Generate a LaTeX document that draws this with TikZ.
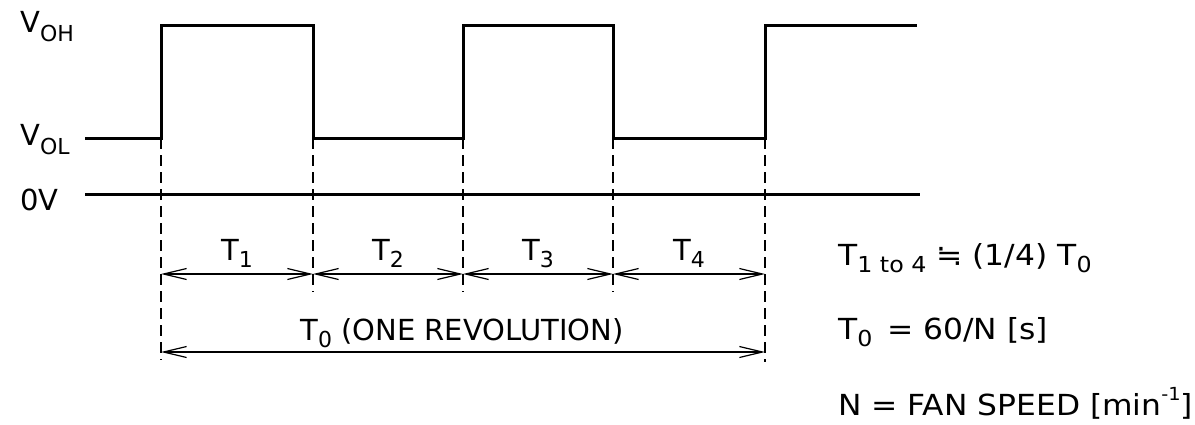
\documentclass[tikz,border=0pt]{standalone}
\usepackage{fontspec}
\setmainfont{DejaVu Sans}
\newfontfamily\rfont[FakeStretch=1.08]{DejaVu Sans}
\usetikzlibrary{arrows.meta}
\newcommand{\dsub}[1]{\raisebox{-7pt}{\fontsize{22}{24}\selectfont #1}}
\newcommand{\vsub}[1]{\raisebox{-9pt}{\fontsize{22}{24}\selectfont #1}}
\newcommand{\dsup}[1]{\raisebox{15pt}{\fontsize{18}{20}\selectfont #1}}
\begin{document}
\begin{tikzpicture}[x=1pt,y=-1pt,
  wave/.style={line width=3pt,line join=miter},
  guide/.style={line width=1.2pt,dash pattern=on 11pt off 6pt},
  dim/.style={line width=1.2pt,{Straight Barb[length=23pt,width=11pt,line width=1.2pt]}-{Straight Barb[length=23pt,width=11pt,line width=1.2pt]}},
  lbl/.style={font=\fontsize{29}{32}\selectfont,inner sep=0pt,anchor=base},
  llbl/.style={lbl,anchor=base west},
  rlbl/.style={font=\rfont\fontsize{29}{32}\selectfont,inner sep=0pt,anchor=base west}]
\useasboundingbox (0,0) rectangle (1195,424);
% waveform coordinates
\coordinate (s) at (85,138);
\coordinate (a0) at (161,138); \coordinate (a1) at (161,25);
\coordinate (b1) at (313,25);  \coordinate (b0) at (313,138);
\coordinate (c0) at (463,138); \coordinate (c1) at (463,25);
\coordinate (d1) at (613,25);  \coordinate (d0) at (613,138);
\coordinate (e0) at (765,138); \coordinate (e1) at (765,25);
\coordinate (f) at (917,25);
\draw[wave] (s) -- (a0) -- (a1) -- (b1) -- (b0) -- (c0) -- (c1) -- (d1) -- (d0) -- (e0) -- (e1) -- (f);
% 0V line
\coordinate (z0) at (85,194); \coordinate (z1) at (920,194);
\draw[wave] (z0) -- (z1);
% dashed guides
\coordinate (ga) at (161,360); \coordinate (gb) at (313,292);
\coordinate (gc) at (463,292); \coordinate (gd) at (613,292);
\coordinate (ge) at (765,362);
\draw[guide] (a0) -- (ga);
\draw[guide] (b0) -- (gb);
\draw[guide] (c0) -- (gc);
\draw[guide] (d0) -- (gd);
\draw[guide] (e0) -- (ge);
% dimension arrows
\coordinate (p1) at (161,274); \coordinate (p2) at (313,274);
\coordinate (p3) at (463,274); \coordinate (p4) at (613,274);
\coordinate (p5) at (765,274);
\coordinate (q1) at (161,352); \coordinate (q5) at (765,352);
\draw[dim] (p1) -- (p2);
\draw[dim] (p2) -- (p3);
\draw[dim] (p3) -- (p4);
\draw[dim] (p4) -- (p5);
\draw[dim] (q1) -- (q5);
% labels
\node[lbl] (t1) at (237,260) {T\dsub{1}};
\node[lbl] (t2) at (388,260) {T\dsub{2}};
\node[lbl] (t3) at (538,260) {T\dsub{3}};
\node[lbl] (t4) at (689,260) {T\dsub{4}};
\node[lbl] (t0) at (462,340) {T\dsub{0} (ONE REVOLUTION)};
\node[llbl] (voh) at (20,32) {V\vsub{OH}};
\node[llbl] (vol) at (20,145) {V\vsub{OL}};
\node[llbl] (zv) at (20,210) {0V};
\node[rlbl] (r1) at (838,265) {T\dsub{1 to 4} ≒ (1/4) T\dsub{0}};
\node[rlbl] (r2) at (838,339) {T\dsub{0} \,= 60/N [s]};
\node[rlbl] (r3) at (838,415) {N = FAN SPEED [min\dsup{-1}]};
\end{tikzpicture}
\end{document}
